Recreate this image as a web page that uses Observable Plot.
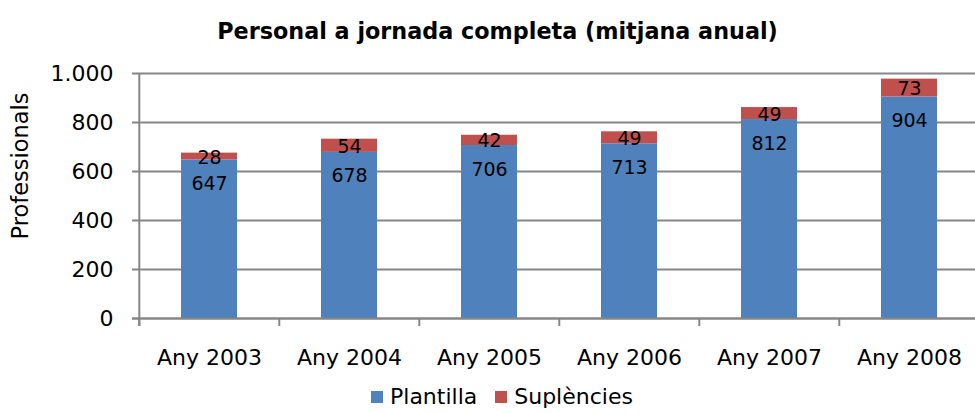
<!DOCTYPE html>
<html>
<head>
<meta charset="utf-8">
<script src="https://cdn.jsdelivr.net/npm/d3@7"></script>
<script src="https://cdn.jsdelivr.net/npm/@observablehq/plot@0.6"></script>
<style>
  html, body { margin: 0; padding: 0; background: #fff; }
  body { width: 975px; height: 413px; position: relative; overflow: hidden; font-family: "DejaVu Sans", Verdana, sans-serif; color: #000; }
  #title { position: absolute; left: 0; top: 0; width: 995px; height: 62px; line-height: 62px; text-align: center; font-weight: bold; font-size: 22.3px; }
  #chart { position: absolute; left: 0; top: 60px; }
  #ylabel { position: absolute; left: 20px; top: 166px; transform: translate(-50%, -50%) rotate(-90deg); font-size: 22.5px; white-space: nowrap; }
  #legend { position: absolute; left: 371px; top: 380px; height: 33px; font-size: 22px; display: flex; align-items: center; padding-top: 0; }
  .item { display: flex; align-items: center; margin-right: 18px; }
  .sw { width: 12px; height: 12px; margin-right: 7px; }
</style>
</head>
<body>
<div id="title">Personal a jornada completa (mitjana anual)</div>
<div id="ylabel">Professionals</div>
<div id="chart"></div>
<div id="legend"></div>
<script>
const years = ["Any 2003", "Any 2004", "Any 2005", "Any 2006", "Any 2007", "Any 2008"];
const plantilla = [647, 678, 706, 713, 812, 904];
const suplencies = [28, 54, 42, 49, 49, 73];
const series = ["Plantilla", "Suplències"];
const colors = ["#4F81BD", "#C0504D"];
const yTicks = [0, 200, 400, 600, 800, 1000];

const rows = [];
years.forEach((y, i) => {
  rows.push({year: y, serie: series[0], value: plantilla[i]});
  rows.push({year: y, serie: series[1], value: suplencies[i]});
});
const labelsP = years.map((y, i) => ({year: y, v: plantilla[i], label: plantilla[i]}));
const labelsS = years.map((y, i) => ({year: y, v: plantilla[i] + suplencies[i] / 2, label: suplencies[i]}));

const locale = d3.formatLocale({decimal: ",", thousands: ".", grouping: [3], currency: ["", "€"]});
const fmt = locale.format(",d");

const W = 975, H = 320;
const x0 = 138, x1 = 980.4;
const step = (x1 - x0) / years.length;
const grid = "#868686";

const chart = Plot.plot({
  width: W,
  height: H,
  marginLeft: x0,
  marginRight: 0,
  marginTop: 13,
  marginBottom: 62,
  style: {fontFamily: "DejaVu Sans, Verdana, sans-serif", fontSize: "22px", color: "#000", background: "transparent", overflow: "visible"},
  x: {domain: years, range: [x0, x1], paddingInner: 0.6, paddingOuter: 0.3, align: 0.5, tickSize: 0, tickPadding: 31, label: null},
  y: {domain: [0, 1000], ticks: yTicks, tickFormat: fmt, tickSize: 0, tickPadding: 25, label: null},
  color: {domain: series, range: colors},
  marks: [
    Plot.ruleY(yTicks, {y: d => d, stroke: grid, strokeWidth: 2, insetLeft: -6}),
    Plot.barY(rows, {x: "year", y: "value", fill: "serie"}),
    Plot.ruleY([0], {y: d => d, stroke: grid, strokeWidth: 2, insetLeft: -6}),
    Plot.ruleX([years[0]], {x: d => d, y1: 1000, y2: 0, dx: -step / 2, insetBottom: -8, stroke: grid, strokeWidth: 2}),
    Plot.ruleX(years, {x: d => d, y1: 0, y2: 0, dx: -step / 2, insetBottom: -8, stroke: grid, strokeWidth: 2}),
    Plot.ruleX([years[years.length - 1]], {x: d => d, y1: 0, y2: 0, dx: step / 2, insetBottom: -8, stroke: grid, strokeWidth: 2}),
    Plot.text(labelsP, {x: "year", y: "v", text: "label", dy: 24, fill: "#000", fontSize: 19}),
    Plot.text(labelsS, {x: "year", y: "v", text: "label", dy: 1, fill: "#000", fontSize: 19})
  ]
});
document.getElementById("chart").appendChild(chart);

const legend = document.getElementById("legend");
series.forEach((s, i) => {
  const it = document.createElement("div");
  it.className = "item";
  const sw = document.createElement("div");
  sw.className = "sw";
  sw.style.background = colors[i];
  const t = document.createElement("span");
  t.textContent = s;
  it.appendChild(sw);
  it.appendChild(t);
  legend.appendChild(it);
});
</script>
</body>
</html>
